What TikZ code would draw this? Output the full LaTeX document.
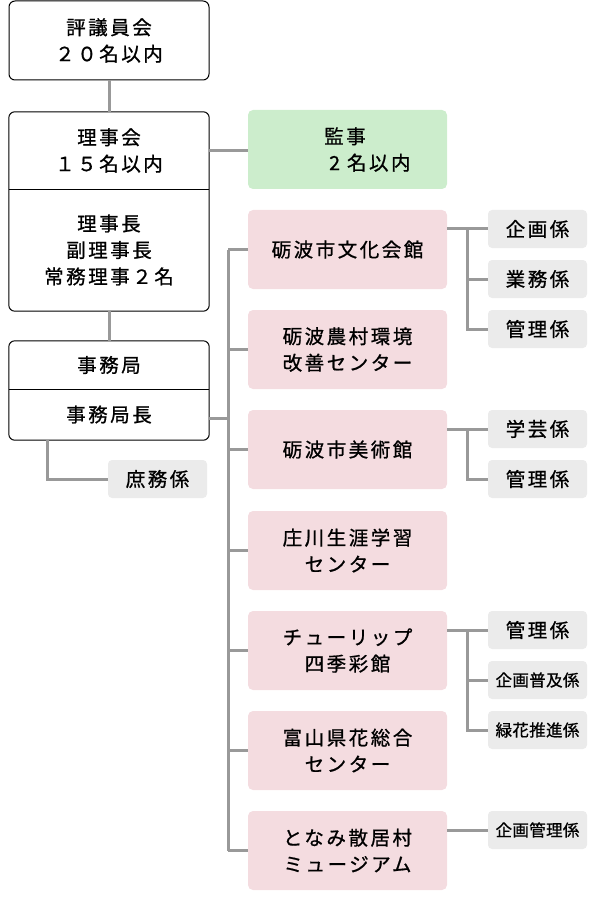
\documentclass[tikz,border=0pt]{standalone}
\usepackage{fontspec}
\setmainfont{Noto Sans CJK JP}[LetterSpace=13, FakeBold=0.9]
\newfontfamily\jpsmall{Noto Sans CJK JP}[LetterSpace=2, FakeBold=0.9]
\usetikzlibrary{positioning}
\definecolor{pinkfill}{HTML}{F4DCE0}
\definecolor{greenfill}{HTML}{CCEDCC}
\definecolor{grayfill}{HTML}{EBEBEB}
\definecolor{linegray}{HTML}{999999}
\tikzset{
  x=1pt, y=-1pt,
  txt/.style={inner sep=0pt, align=center, font=\fontsize{19.5}{26.5}\selectfont},
  wbox/.style={draw=black, line width=1pt, rounded corners=6pt, fill=white,
    minimum width=200pt, txt},
  pbox/.style={fill=pinkfill, rounded corners=5pt, minimum width=199pt, minimum height=79pt, txt},
  gbox/.style={fill=greenfill, rounded corners=5pt, minimum width=199pt, minimum height=79pt, txt},
  sbox/.style={fill=grayfill, rounded corners=4pt, minimum width=99pt, minimum height=38pt, txt},
  ssmall/.style={font=\jpsmall\fontsize{16.5}{18}\selectfont},
  conn/.style={draw=linegray, line width=3pt},
}
\begin{document}
\begin{tikzpicture}
\useasboundingbox (0,0) rectangle (595,901);
% left column
\node[wbox, minimum height=79pt] (hyo) at (109,40.5) {評議員会\\２０名以内};
\node[txt, minimum width=200pt, minimum height=77pt] (rijiT) at (109,150.5) {理事会\\１５名以内};
\node[txt, minimum width=200pt, minimum height=122pt] (rijiB) at (109,250) {理事長\\副理事長\\常務理事２名};
\draw[black, line width=1pt, rounded corners=6pt] (rijiT.north west) rectangle (rijiB.south east);
\draw[black, line width=1pt] (rijiT.south west) -- (rijiT.south east);
\node[txt, minimum width=200pt, minimum height=48pt] (jimT) at (109,365) {事務局};
\node[txt, minimum width=200pt, minimum height=51pt] (jimB) at (109,414.5) {事務局長};
\draw[black, line width=1pt, rounded corners=6pt] (jimT.north west) rectangle (jimB.south east);
\draw[black, line width=1pt] (jimT.south west) -- (jimT.south east);
\node[sbox] (shomu) at (157.5,479) {庶務係};
% kanji
\node[gbox] (kanji) at (347.5,149.5) {};
\node[txt, anchor=west, align=left] (kanjiT) at (324,149.5) {監事\\\hspace*{5pt}2\hspace{7pt}名以内};
% pink column
\node[pbox] (bunka) at (347.5,249.5) {砺波市文化会館};
\node[pbox] (noson) at (347.5,349.5) {砺波農村環境\\改善センター};
\node[pbox] (bijutsu) at (347.5,449.5) {砺波市美術館};
\node[pbox] (shogai) at (347.5,550.5) {庄川生涯学習\\センター};
\node[pbox] (tulip) at (347.5,650.5) {チューリップ\\四季彩館};
\node[pbox] (hana) at (347.5,750.5) {富山県花総合\\センター};
\node[pbox] (sankyo) at (347.5,850.5) {となみ散居村\\ミュージアム};
% sub boxes
\node[sbox] (kikaku1) at (537.5,229) {企画係};
\node[sbox] (gyomu) at (537.5,279) {業務係};
\node[sbox] (kanri1) at (537.5,329) {管理係};
\node[sbox] (gakugei) at (537.5,429) {学芸係};
\node[sbox] (kanri2) at (537.5,479) {管理係};
\node[sbox] (kanri3) at (537.5,630) {管理係};
\node[sbox, ssmall] (fukyu) at (537.5,680) {企画普及係};
\node[sbox, ssmall] (ryokka) at (537.5,730) {緑花推進係};
\node[sbox, ssmall] (kikaku2) at (537.5,830) {企画管理係};
% connectors left
\draw[conn] (hyo.south) -- (rijiT.north);
\draw[conn] (rijiB.south) -- (jimT.north);
\draw[conn] (rijiT.east) -- (rijiT.east -| kanji.west);
\coordinate (shomuTop) at ([xshift=-62pt]jimB.south);
\draw[conn] (shomuTop) |- (shomu.west);
% bus
\coordinate (busT) at (228,249.5);
\coordinate (busB) at (228,850.5);
\draw[conn] (busT) -- (busB);
\draw[conn] ([yshift=-4pt]jimB.east) -- ([yshift=-4pt]jimB.east -| busT);
\foreach \n in {bunka,noson,bijutsu,shogai,tulip,hana,sankyo}
  \draw[conn] (\n.west -| busT) -- (\n.west);
% sub connectors
\coordinate (v1) at (467,229);
\draw[conn] (kikaku1.west -| bunka.east) -- (kikaku1.west);
\draw[conn] (v1) |- (gyomu.west);
\draw[conn] (v1) |- (kanri1.west);
\coordinate (v2) at (467,429);
\draw[conn] (gakugei.west -| bijutsu.east) -- (gakugei.west);
\draw[conn] (v2) |- (kanri2.west);
\coordinate (v3) at (467,630);
\draw[conn] (kanri3.west -| tulip.east) -- (kanri3.west);
\draw[conn] (v3) |- (fukyu.west);
\draw[conn] (v3) |- (ryokka.west);
\draw[conn] (kikaku2.west -| sankyo.east) -- (kikaku2.west);
\end{tikzpicture}
\end{document}
